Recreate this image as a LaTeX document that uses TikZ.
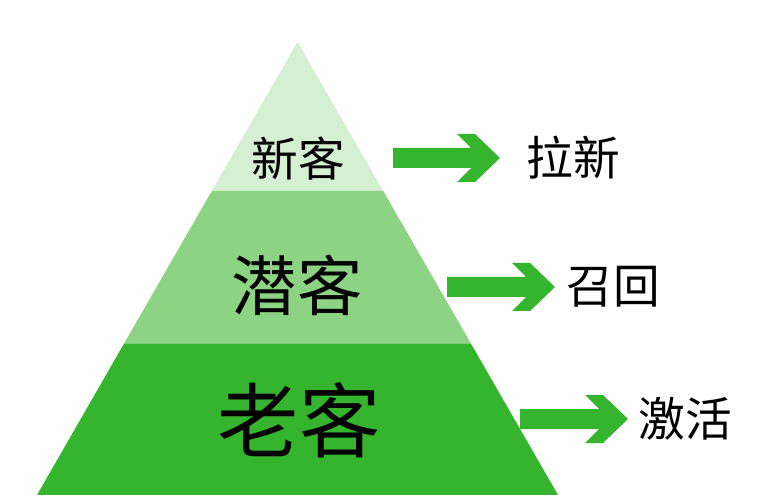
\documentclass[tikz,border=0pt]{standalone}
\usepackage{fontspec}
\newfontfamily\cjk{Noto Sans CJK SC}
\usepackage{xcolor}
\usetikzlibrary{calc,positioning}

\definecolor{tierlight}{HTML}{D5EFD3}
\definecolor{tiermid}{HTML}{8CD383}
\definecolor{tierdark}{HTML}{35B42D}

% block arrow from #1 to the tip #2
\newcommand\flowarrow[2]{%
  \fill[flow] ($(#1)+(0,-10)$) -- ($(#2)+(-29,-10)$) -- ++(-14,-14) -- ++(18,0)
    -- (#2) -- ++(-25,24) -- ++(-18,0) -- ++(14,-14) -- ($(#1)+(0,10)$) -- cycle;}

\begin{document}
\begin{tikzpicture}[
  x=0.75pt, y=-0.75pt,
  tier/.style={draw=none},
  label/.style={inner sep=0pt, font=\cjk},
  flow/.style={fill=tierdark, draw=none}
]
\useasboundingbox (0,0) rectangle (782,495);

% Pyramid tiers
\fill[tier, tierlight] (297.5,42) -- (383.2,191) -- (211.8,191) -- cycle;
\fill[tier, tiermid] (211.8,191) -- (383.2,191) -- (471.2,344) -- (123.8,344) -- cycle;
\fill[tier, tierdark] (123.8,344) -- (471.2,344) -- (558,495) -- (37,495) -- cycle;

% Nodes
\node[label, font=\cjk\fontsize{35pt}{35pt}\selectfont] (new) at (298,159) {新客};
\node[label, font=\cjk\fontsize{49pt}{49pt}\selectfont] (pot) at (297,285) {潜客};
\node[label, font=\cjk\fontsize{61pt}{61pt}\selectfont] (old) at (299,420) {老客};

\node[label, font=\cjk\fontsize{35pt}{35pt}\selectfont] (acq) at (573,158) {拉新};
\node[label, font=\cjk\fontsize{35pt}{35pt}\selectfont] (rec) at (613,287) {召回};
\node[label, font=\cjk\fontsize{35pt}{35pt}\selectfont] (act) at (685,419) {激活};

% Connections
\coordinate (s1) at (393,158);
\coordinate (e1) at (500,158);
\coordinate (s2) at (447,287);
\coordinate (e2) at (555,287);
\coordinate (s3) at (520,419);
\coordinate (e3) at (628,419);
\flowarrow{s1}{e1}
\flowarrow{s2}{e2}
\flowarrow{s3}{e3}

\end{tikzpicture}
\end{document}
